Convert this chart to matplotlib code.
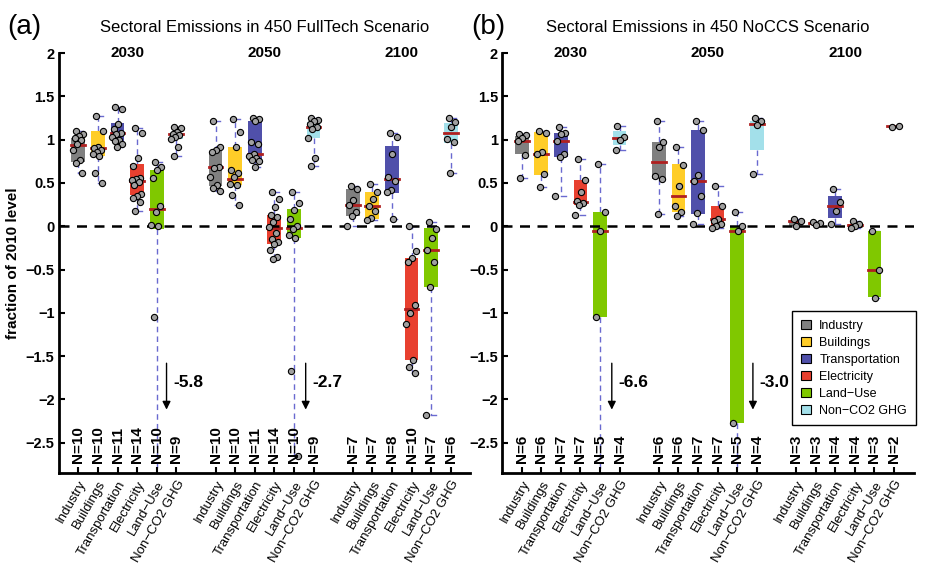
import numpy as np
import matplotlib.pyplot as plt
from matplotlib.patches import Patch

plt.rcParams['font.family'] = ['Liberation Sans', 'DejaVu Sans']

sectors = ['Industry', 'Buildings', 'Transportation', 'Electricity',
           'Land\u2212Use', 'Non\u2212CO2 GHG']
years = ['2030', '2050', '2100']
colors = ['#808080', '#FFCD28', '#5050AA', '#E8402F', '#80C800', '#A3E0EA']
ytick_vals = [2, 1.5, 1, 0.5, 0, -0.5, -1, -1.5, -2, -2.5]
ytick_text = ['2', '1.5', '1', '0.5', '0', '\u22120.5', '\u22121', '\u22121.5', '\u22122', '\u22122.5']

# ---- panel (a): 450 FullTech, 3 years x 6 sectors ----
a_points = [
    # 2030
    [1.10, 1.06, 1.04, 1.02, 1.00, 0.95, 0.88, 0.76, 0.73, 0.61],
    [1.27, 1.10, 0.92, 0.90, 0.88, 0.86, 0.83, 0.81, 0.61, 0.50],
    [1.38, 1.35, 1.18, 1.12, 1.08, 1.06, 1.03, 1.00, 0.99, 0.95, 0.92],
    [1.13, 1.08, 0.79, 0.70, 0.56, 0.55, 0.53, 0.51, 0.48, 0.37, 0.35, 0.33, 0.28, 0.18],
    [0.74, 0.69, 0.65, 0.56, 0.23, 0.17, 0.02, 0.00, -1.05, -5.8],
    [1.15, 1.13, 1.09, 1.07, 1.05, 1.03, 1.01, 0.91, 0.81],
    # 2050
    [1.22, 0.91, 0.88, 0.86, 0.69, 0.67, 0.57, 0.48, 0.44, 0.41],
    [1.24, 1.09, 0.92, 0.65, 0.62, 0.57, 0.49, 0.48, 0.36, 0.25],
    [1.25, 1.24, 1.21, 0.97, 0.95, 0.84, 0.81, 0.79, 0.77, 0.75, 0.68],
    [0.40, 0.32, 0.22, 0.13, 0.11, 0.05, -0.01, -0.08, -0.15, -0.18, -0.21, -0.28, -0.35, -0.38],
    [0.40, 0.27, 0.19, 0.08, 0.00, -0.03, -0.10, -0.14, -1.67, -2.65],
    [1.25, 1.23, 1.21, 1.18, 1.15, 1.12, 1.02, 0.79, 0.70],
    # 2100
    [0.46, 0.43, 0.30, 0.25, 0.16, 0.12, 0.00],
    [0.49, 0.40, 0.32, 0.23, 0.18, 0.09, 0.07],
    [1.08, 1.03, 0.84, 0.57, 0.52, 0.42, 0.39, 0.08],
    [0.00, -0.29, -0.37, -0.41, -0.91, -1.00, -1.13, -1.55, -1.62, -1.70],
    [0.05, -0.03, -0.14, -0.28, -0.41, -0.70, -2.18],
    [1.25, 1.20, 1.15, 1.01, 0.97, 0.61],
]
a_q1 = [0.74, 0.81, 0.99, 0.36, -0.03, 1.01,
        0.47, 0.48, 0.75, -0.20, -0.135, 1.02,
        0.12, 0.085, 0.38, -1.55, -0.70, 0.96]
a_med = [0.94, 0.90, 1.08, 0.52, 0.20, 1.06,
         0.68, 0.55, 0.83, -0.015, -0.015, 1.15,
         0.25, 0.235, 0.55, -0.95, -0.28, 1.08]
a_q3 = [1.02, 1.10, 1.19, 0.72, 0.65, 1.08,
        0.87, 0.92, 1.22, 0.13, 0.195, 1.20,
        0.43, 0.40, 0.93, -0.37, -0.02, 1.19]
a_arrow_x = [5.5, 12.6]
a_arrow_text = ['-5.8', '-2.7']

# ---- panel (b): 450 NoCCS ----
b_points = [
    # 2030
    [1.07, 1.05, 1.02, 0.98, 0.82, 0.56],
    [1.10, 1.08, 0.86, 0.84, 0.60, 0.45],
    [1.15, 1.08, 1.06, 0.99, 0.84, 0.80, 0.35],
    [0.78, 0.53, 0.40, 0.29, 0.27, 0.24, 0.13],
    [0.72, 0.17, -0.05, -1.05, -6.6],
    [1.16, 1.03, 1.00, 0.88],
    # 2050
    [1.21, 0.97, 0.91, 0.58, 0.55, 0.14],
    [0.92, 0.71, 0.46, 0.23, 0.17, 0.12],
    [1.22, 1.11, 0.59, 0.52, 0.35, 0.15, 0.03],
    [0.47, 0.23, 0.08, 0.06, 0.03, 0.00, -0.02],
    [0.17, 0.00, -0.06, -2.27, -3.0],
    [1.25, 1.21, 1.17, 0.60],
    # 2100
    [0.08, 0.06, 0.00],
    [0.05, 0.04, 0.01],
    [0.43, 0.28, 0.18, 0.03],
    [0.06, 0.03, 0.00, -0.02],
    [-0.06, -0.50, -0.83],
    [1.15, 1.16],
]
b_q1 = [0.84, 0.59, 0.80, 0.25, -1.05, 0.94,
        0.55, 0.165, 0.14, -0.01, -2.27, 0.88,
        0.00, 0.01, 0.10, -0.02, -0.82, 1.15]
b_med = [0.98, 0.84, 0.99, 0.28, -0.05, 1.02,
         0.74, 0.345, 0.52, 0.08, -0.06, 1.18,
         0.06, 0.04, 0.23, 0.02, -0.50, 1.155]
b_q3 = [1.04, 1.09, 1.08, 0.53, 0.17, 1.10,
        0.97, 0.715, 1.11, 0.23, 0.00, 1.22,
        0.07, 0.05, 0.35, 0.03, -0.06, 1.16]
b_arrow_x = [5.6, 12.8]
b_arrow_text = ['-6.6', '-3.0']

median_color = '#B02020'
whisker_color = '#6A6AD0'


def draw_panel(ax, points, q1, med, q3, arrow_x, arrow_text, title):
    positions = [g * 7 + k + 1 for g in range(3) for k in range(6)]
    for i, pos in enumerate(positions):
        pts = np.array(points[i])
        ax.bar(pos, q3[i] - q1[i], bottom=q1[i], width=0.7,
               color=colors[i % 6], linewidth=0, zorder=2)
        ax.plot([pos - 0.35, pos + 0.35], [med[i], med[i]],
                color=median_color, lw=2, zorder=3)
        # whiskers to min / max
        for end, edge in [(pts.max(), q3[i]), (pts.min(), q1[i])]:
            ax.plot([pos, pos], [edge, end], color=whisker_color, lw=1,
                    dashes=(4, 3), zorder=1.5)
            ax.plot([pos, pos + 0.25], [end, end], color=whisker_color,
                    lw=1, zorder=1.5)
        # jittered points
        offs = 0.28 * (((np.arange(len(pts)) * 0.618 + 0.3) % 1) * 2 - 1)
        ax.scatter(pos + offs, pts, s=20, facecolor='#A0A0A0',
                   edgecolor='black', linewidth=0.8, zorder=5)
        ax.text(pos, -2.74, 'N=%d' % len(pts), rotation=90, ha='center',
                va='bottom', fontsize=11, fontweight='bold', zorder=6)

    ax.axhline(0, color='black', lw=1.8, dashes=(4, 3), zorder=4)

    for g, yr in enumerate(years):
        ax.text(g * 7 + 3.5, 2.0, yr, ha='center', va='center',
                fontsize=11, fontweight='bold')

    for x, t in zip(arrow_x, arrow_text):
        ax.annotate('', xy=(x, -2.15), xytext=(x, -1.55),
                    arrowprops=dict(arrowstyle='-|>', color='black', lw=1,
                                    mutation_scale=12))
        ax.text(x + 0.35, -1.8, t, ha='left', va='center',
                fontsize=12.5, fontweight='bold')

    ax.text(0.5, 1.06, title, transform=ax.transAxes, ha='center',
            va='center', fontsize=12)

    ax.set_xlim(0, 21)
    ax.set_ylim(-2.85, 2.0)
    ax.set_xticks(positions)
    ax.set_xticklabels(sectors * 3, rotation=60, ha='right',
                       rotation_mode='anchor', fontsize=9.5)
    ax.set_yticks(ytick_vals)
    ax.set_yticklabels(ytick_text, fontsize=10.5, fontweight='bold')
    ax.tick_params(direction='in', length=4, width=1.5, pad=3)
    ax.tick_params(axis='x', pad=4)
    for s in ['top', 'right']:
        ax.spines[s].set_visible(False)
    for s in ['left', 'bottom']:
        ax.spines[s].set_linewidth(2)


fig = plt.figure(figsize=(9.28, 5.69), dpi=100)
ax1 = fig.add_axes([0.0633, 0.1687, 0.4435, 0.738])
ax2 = fig.add_axes([0.541, 0.1687, 0.4435, 0.738])

draw_panel(ax1, a_points, a_q1, a_med, a_q3, a_arrow_x, a_arrow_text,
           'Sectoral Emissions in 450 FullTech Scenario')
draw_panel(ax2, b_points, b_q1, b_med, b_q3, b_arrow_x, b_arrow_text,
           'Sectoral Emissions in 450 NoCCS Scenario')

ax1.set_ylabel('fraction of 2010 level', fontsize=11, fontweight='bold',
               labelpad=4)

handles = [Patch(facecolor=c, edgecolor='black', linewidth=0.8) for c in colors]
leg = ax2.legend(handles, sectors, loc='upper right',
                 bbox_to_anchor=(1.005, 0.386), borderaxespad=0,
                 fontsize=9, fancybox=False, edgecolor='black',
                 handlelength=0.8, handleheight=0.7, handletextpad=0.7,
                 borderpad=0.7, labelspacing=0.4)
leg.get_frame().set_linewidth(1)
leg.get_frame().set_alpha(1)
leg.set_zorder(3)

fig.text(0.008, 0.975, '(a)', fontsize=20, va='top', ha='left')
fig.text(0.508, 0.975, '(b)', fontsize=20, va='top', ha='left')

fig.savefig('out.png', dpi=100)
